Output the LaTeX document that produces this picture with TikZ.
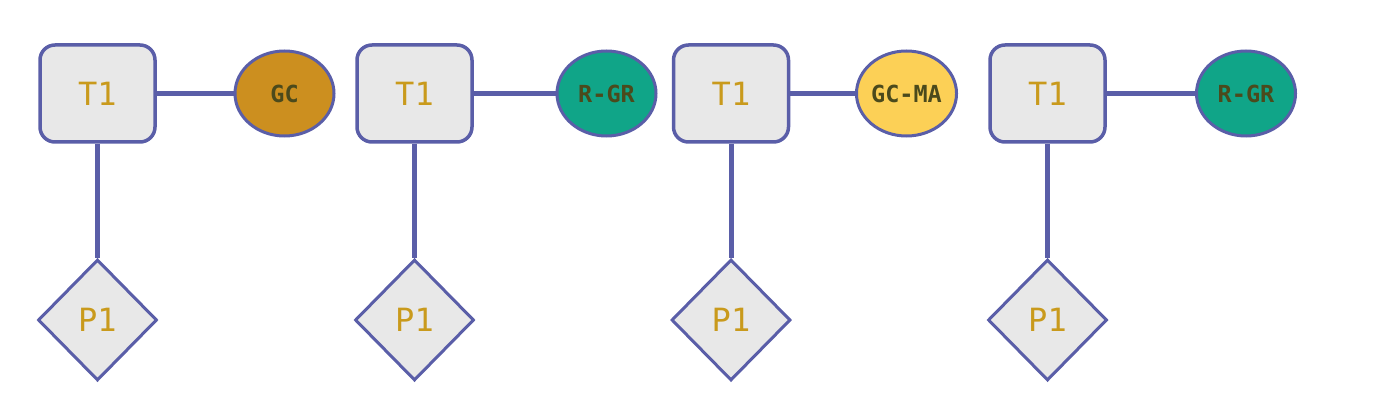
\documentclass[tikz,border=0pt]{standalone}
\usepackage{fontspec}
\setmonofont{DejaVu Sans Mono}
\usetikzlibrary{shapes.geometric}
\definecolor{edgeblue}{HTML}{5A5EA8}
\definecolor{boxfill}{HTML}{E8E8E8}
\definecolor{tone}{HTML}{C99A1C}
\definecolor{darktxt}{HTML}{4B4A1C}
\definecolor{gcfill}{HTML}{CC8F1F}
\definecolor{rgrfill}{HTML}{10A588}
\definecolor{gcmafill}{HTML}{FCD056}
\tikzset{
  tbox/.style={draw=edgeblue, line width=3.5pt, fill=boxfill, rounded corners=15pt,
    minimum width=115pt, minimum height=97pt, inner sep=0pt,
    font=\ttfamily\fontsize{32}{32}\selectfont, text=tone},
  pdia/.style={diamond, draw=edgeblue, line width=3pt, fill=boxfill,
    minimum width=119pt, minimum height=121pt, inner sep=0pt,
    font=\ttfamily\fontsize{32}{32}\selectfont, text=tone},
  gell/.style={ellipse, draw=edgeblue, line width=3pt,
    minimum width=99pt, minimum height=85pt, inner sep=0pt,
    font=\ttfamily\bfseries\fontsize{23.5}{23.5}\selectfont, text=darktxt},
  link/.style={draw=edgeblue, line width=5pt}
}
\begin{document}
\begin{tikzpicture}[x=1pt,y=-1pt]
\useasboundingbox (0,0) rectangle (1400,414);
% group 1
\node[tbox] (t1) at (97.5,93.5) {T1};
\node[gell, fill=gcfill] (e1) at (284.5,93.5) {GC};
\node[pdia] (p1) at (97.5,320) {P1};
% group 2
\node[tbox] (t2) at (414.5,93.5) {T1};
\node[gell, fill=rgrfill] (e2) at (606.5,93.5) {R-GR};
\node[pdia] (p2) at (414.5,320) {P1};
% group 3
\node[tbox] (t3) at (731,93.5) {T1};
\node[gell, fill=gcmafill] (e3) at (906.5,93.5) {GC-MA};
\node[pdia] (p3) at (731,320) {P1};
% group 4
\node[tbox] (t4) at (1047.5,93.5) {T1};
\node[gell, fill=rgrfill] (e4) at (1246,93.5) {R-GR};
\node[pdia] (p4) at (1047.5,320) {P1};
\foreach \i in {1,2,3,4}{
  \draw[link] (t\i.east) -- (e\i.west);
  \draw[link] (t\i.south) -- (p\i.north);
}
\end{tikzpicture}
\end{document}
